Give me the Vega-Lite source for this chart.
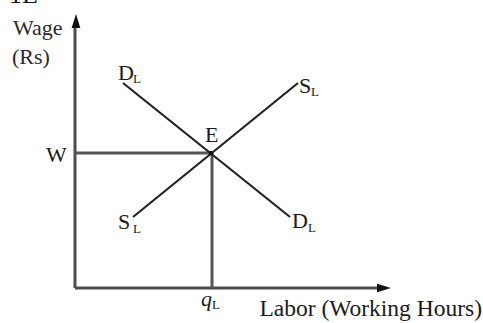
{
  "$schema": "https://vega.github.io/schema/vega-lite/v6.json",
  "width": 483,
  "height": 323,
  "autosize": {"type": "none"},
  "padding": 0,
  "background": "white",
  "config": {"view": {"stroke": null}},
  "datasets": {
    "segs": [
      {"part": "axis", "x": 0, "y": 0, "x2": 0, "y2": 26.3},
      {"part": "axis", "x": 0, "y": 0, "x2": 30.6, "y2": 0},
      {"part": "guide", "x": 0, "y": 13.5, "x2": 13.6, "y2": 13.5},
      {"part": "guide", "x": 13.7, "y": 0, "x2": 13.7, "y2": 13.5},
      {"part": "curve", "x": 4.8, "y": 20.5, "x2": 21.5, "y2": 7.1},
      {"part": "curve", "x": 5.8, "y": 7.1, "x2": 22.3, "y2": 20.5}
    ],
    "arrows": [
      {"dir": "up", "x": 0.1, "y": 26.7},
      {"dir": "right", "x": 30.9, "y": 0}
    ],
    "eq": [{"x": 13.6, "y": 13.5}],
    "labels": [
      {"kind": "main", "text": "D", "x": 4.3, "y": 20.8},
      {"kind": "main", "text": "S", "x": 22.4, "y": 19.5},
      {"kind": "main", "text": "S", "x": 4.3, "y": 5.9},
      {"kind": "main", "text": "D", "x": 21.7, "y": 6.0},
      {"kind": "main", "text": "E", "x": 13.0, "y": 14.6},
      {"kind": "main", "text": "W", "x": -2.9, "y": 12.6},
      {"kind": "sub", "text": "L", "x": 5.8, "y": 20.5},
      {"kind": "sub", "text": "L", "x": 23.6, "y": 19.2},
      {"kind": "sub", "text": "L", "x": 5.8, "y": 5.5},
      {"kind": "sub", "text": "L", "x": 23.3, "y": 5.6},
      {"kind": "sub", "text": "L", "x": 13.7, "y": -2.1},
      {"kind": "italic", "text": "q", "x": 12.6, "y": -1.8},
      {"kind": "ylabel", "text": "Wage", "x": -6.2, "y": 25.3},
      {"kind": "ylabel", "text": "(Rs)", "x": -6.3, "y": 22.4},
      {"kind": "xlabel", "text": "Labor (Working Hours)", "x": 40.7, "y": -2.8},
      {"kind": "top", "text": "1E", "x": -6.6, "y": 28.55}
    ]
  },
  "encoding": {
    "x": {"field": "x", "type": "quantitative", "scale": {"domain": [-7.5, 40.8], "nice": false, "zero": false}, "axis": null},
    "y": {"field": "y", "type": "quantitative", "scale": {"domain": [-3.5, 28.8], "nice": false, "zero": false}, "axis": null}
  },
  "layer": [
    {
      "data": {"name": "segs"},
      "transform": [{"filter": "datum.part === 'axis'"}],
      "mark": {"type": "rule", "color": "#4d4d4d", "strokeWidth": 3},
      "encoding": {"x2": {"field": "x2"}, "y2": {"field": "y2"}}
    },
    {
      "data": {"name": "segs"},
      "transform": [{"filter": "datum.part === 'guide'"}],
      "mark": {"type": "rule", "color": "#555555", "strokeWidth": 3},
      "encoding": {"x2": {"field": "x2"}, "y2": {"field": "y2"}}
    },
    {
      "data": {"name": "segs"},
      "transform": [{"filter": "datum.part === 'curve'"}],
      "mark": {"type": "rule", "color": "#222222", "strokeWidth": 2.2},
      "encoding": {"x2": {"field": "x2"}, "y2": {"field": "y2"}}
    },
    {
      "data": {"name": "arrows"},
      "transform": [{"filter": "datum.dir === 'up'"}],
      "mark": {"type": "point", "filled": true, "color": "#111111", "opacity": 1, "size": 196, "shape": "M0,-1L0.62,1L-0.62,1Z"}
    },
    {
      "data": {"name": "arrows"},
      "transform": [{"filter": "datum.dir === 'right'"}],
      "mark": {"type": "point", "filled": true, "color": "#111111", "opacity": 1, "size": 196, "shape": "M1,0L-1,0.62L-1,-0.62Z"}
    },
    {
      "data": {"name": "eq"},
      "mark": {"type": "point", "filled": true, "color": "#111111", "opacity": 1, "size": 20}
    },
    {
      "data": {"name": "labels"},
      "transform": [{"filter": "datum.kind === 'main'"}],
      "mark": {"type": "text", "font": "Liberation Serif", "fontSize": 22, "align": "left", "baseline": "alphabetic", "color": "#1a1a1a"},
      "encoding": {"text": {"field": "text"}}
    },
    {
      "data": {"name": "labels"},
      "transform": [{"filter": "datum.kind === 'sub'"}],
      "mark": {"type": "text", "font": "Liberation Serif", "fontSize": 13, "align": "left", "baseline": "alphabetic", "color": "#1a1a1a"},
      "encoding": {"text": {"field": "text"}}
    },
    {
      "data": {"name": "labels"},
      "transform": [{"filter": "datum.kind === 'italic'"}],
      "mark": {"type": "text", "font": "Liberation Serif", "fontStyle": "italic", "fontSize": 22, "align": "left", "baseline": "alphabetic", "color": "#1a1a1a"},
      "encoding": {"text": {"field": "text"}}
    },
    {
      "data": {"name": "labels"},
      "transform": [{"filter": "datum.kind === 'ylabel'"}],
      "mark": {"type": "text", "font": "Liberation Serif", "fontSize": 22, "align": "left", "baseline": "alphabetic", "color": "#2a2a2a"},
      "encoding": {"text": {"field": "text"}}
    },
    {
      "data": {"name": "labels"},
      "transform": [{"filter": "datum.kind === 'xlabel'"}],
      "mark": {"type": "text", "font": "Liberation Serif", "fontSize": 23.5, "align": "right", "baseline": "alphabetic", "color": "#1a1a1a"},
      "encoding": {"text": {"field": "text"}}
    },
    {
      "data": {"name": "labels"},
      "transform": [{"filter": "datum.kind === 'top'"}],
      "mark": {"type": "text", "font": "Liberation Serif", "fontSize": 26, "align": "left", "baseline": "alphabetic", "color": "#1a1a1a"},
      "encoding": {"text": {"field": "text"}}
    }
  ]
}
